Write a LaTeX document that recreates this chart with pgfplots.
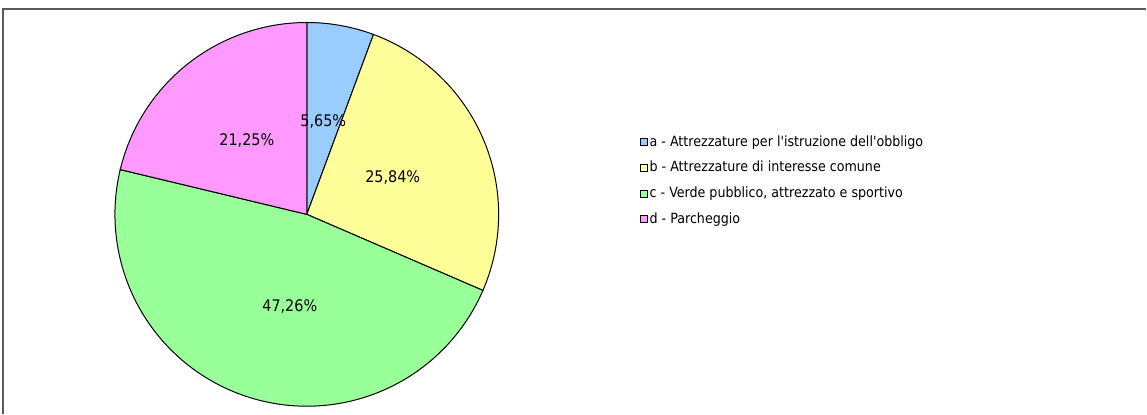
\documentclass[border=0pt]{standalone}
\usepackage{pgfplots}
\pgfplotsset{compat=1.18}
\usepackage{fontspec}
\setmainfont{DejaVu Sans Condensed}[Ligatures=TeXOff]
\definecolor{cA}{HTML}{99CCFF}
\definecolor{cB}{HTML}{FFFF99}
\definecolor{cC}{HTML}{99FF99}
\definecolor{cD}{HTML}{FF99FF}
\definecolor{frame}{HTML}{595959}
% slice values (percent)
\def\va{5.65}
\def\vb{25.84}
\def\vc{47.26}
\def\vd{21.25}
\pgfmathsetmacro{\aA}{0}
\pgfmathsetmacro{\aB}{3.6*\va}
\pgfmathsetmacro{\aC}{3.6*(\va+\vb)}
\pgfmathsetmacro{\aD}{3.6*(\va+\vb+\vc)}
\pgfmathsetmacro{\aE}{3.6*(\va+\vb+\vc+\vd)}
\def\cx{307}
\def\cy{199.5}
\def\rr{192}
\begin{document}
\begin{tikzpicture}
\begin{axis}[
  scale only axis, width=573.5pt, height=207pt,
  xmin=0, xmax=1147, ymin=0, ymax=414,
  hide axis, clip=false,
  legend cell align=left,
  legend image code/.code={\draw[#1, draw=black, line width=0.35pt] (0pt,-1.75pt) rectangle (3.5pt,1.75pt);},
  legend style={at={(axis cs:634,285)}, anchor=north west, draw=none, fill=none,
    font=\fontsize{7.05}{8.4}\selectfont, row sep=4pt,
    nodes={inner sep=1pt}, /tikz/every even column/.append style={column sep=0pt}},
]
\path (axis cs:0,0) rectangle (axis cs:1147,414);
\draw[frame, line width=0.8pt] (axis cs:3,0) -- (axis cs:3,405) -- (axis cs:1147,405);
\addplot[fill=cA, draw=black, line width=0.5pt, domain=\aA:\aB, samples=30]
  ({\cx+\rr*sin(x)},{\cy+\rr*cos(x)}) -- (axis cs:\cx,\cy) -- cycle;
\addlegendentry{a - Attrezzature per l'istruzione dell'obbligo}
\addplot[fill=cB, draw=black, line width=0.5pt, domain=\aB:\aC, samples=60]
  ({\cx+\rr*sin(x)},{\cy+\rr*cos(x)}) -- (axis cs:\cx,\cy) -- cycle;
\addlegendentry{b - Attrezzature di interesse comune}
\addplot[fill=cC, draw=black, line width=0.5pt, domain=\aC:\aD, samples=100]
  ({\cx+\rr*sin(x)},{\cy+\rr*cos(x)}) -- (axis cs:\cx,\cy) -- cycle;
\addlegendentry{c - Verde pubblico, attrezzato e sportivo}
\addplot[fill=cD, draw=black, line width=0.5pt, domain=\aD:\aE, samples=50]
  ({\cx+\rr*sin(x)},{\cy+\rr*cos(x)}) -- (axis cs:\cx,\cy) -- cycle;
\addlegendentry{d - Parcheggio}
\begin{scope}[every node/.style={font=\fontsize{8}{9}\selectfont, inner sep=0pt}]
\node at (axis cs:323.5,292) {5,65\%};
\node at (axis cs:393,236) {25,84\%};
\node at (axis cs:290,107) {47,26\%};
\node at (axis cs:247,273) {21,25\%};
\end{scope}
\end{axis}
\end{tikzpicture}
\end{document}
